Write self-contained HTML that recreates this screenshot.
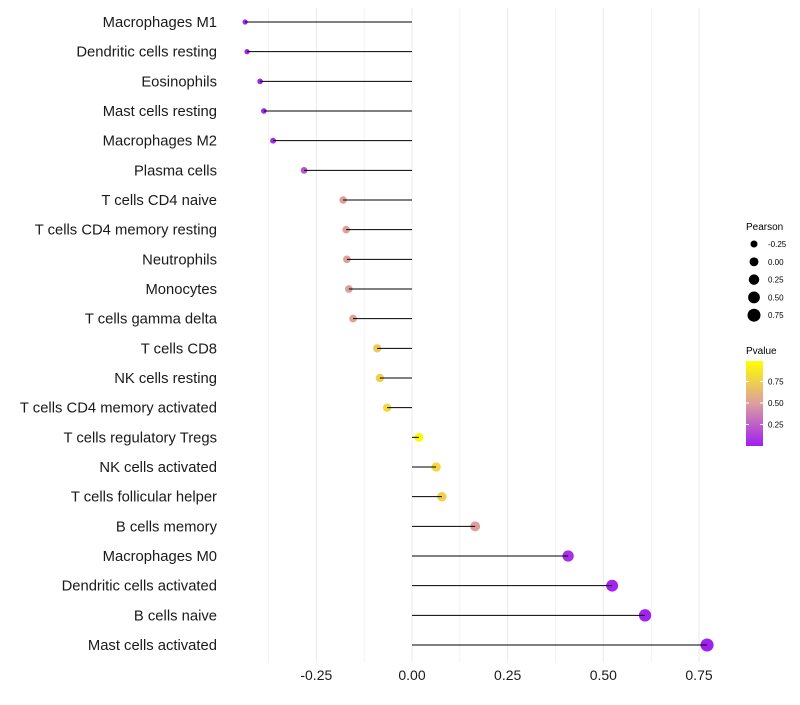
<!DOCTYPE html>
<html><head><meta charset="utf-8"><style>
body{margin:0;background:#fff;font-family:"Liberation Sans",sans-serif}
svg text{font-family:"Liberation Sans",sans-serif}
</style></head><body>
<svg id="chart" width="800" height="700">
<defs><linearGradient id="pg" x1="0" y1="1" x2="0" y2="0">
<stop offset="0" stop-color="#a020f0"/><stop offset="0.5" stop-color="#dc9ea0"/><stop offset="1" stop-color="#ffff00"/></linearGradient></defs>
<g id="grid"></g><g id="pts"></g><g id="marks"></g><g id="axes"></g>
<g>
<text x="746" y="230" font-size="10">Pearson</text>
<g id="sizeleg"></g>
<text x="746" y="354" font-size="10">Pvalue</text>
<rect x="746" y="361" width="17" height="85" fill="url(#pg)"/>
<g id="colleg"></g>
</g>
</svg>
<script>
const categories=["Macrophages M1","Dendritic cells resting","Eosinophils","Mast cells resting","Macrophages M2","Plasma cells","T cells CD4 naive","T cells CD4 memory resting","Neutrophils","Monocytes","T cells gamma delta","T cells CD8","NK cells resting","T cells CD4 memory activated","T cells regulatory  Tregs ","NK cells activated","T cells follicular helper","B cells memory","Macrophages M0","Dendritic cells activated","B cells naive","Mast cells activated"];
const pearson=[-0.436,-0.431,-0.397,-0.387,-0.363,-0.282,-0.180,-0.172,-0.170,-0.165,-0.154,-0.091,-0.084,-0.065,0.018,0.063,0.078,0.165,0.408,0.523,0.609,0.771];
const pvalue=[0.01,0.01,0.02,0.03,0.05,0.2,0.5,0.5,0.5,0.5,0.52,0.72,0.76,0.8,0.97,0.8,0.76,0.5,0.06,0.02,0.01,0.001];
const xTicks=[-0.25,0,0.25,0.5,0.75];
const xTickLabels=["-0.25","0.00","0.25","0.50","0.75"];
const sizeLegVals=[-0.25,0,0.25,0.5,0.75];
const colLegVals=[0.25,0.5,0.75];
const NS="http://www.w3.org/2000/svg";
const X=v=>412+v*382.7;
const Y=i=>22+i*29.667;
const R=v=>Math.sqrt(Math.max(2,19.75+30*v));
function mix(a,b,t){return a.map((x,i)=>Math.round(x+(b[i]-x)*t));}
function col(p){const s=[[160,32,240],[222,158,156],[255,255,0]];const c=p<0.5?mix(s[0],s[1],p/0.5):mix(s[1],s[2],(p-0.5)/0.5);return `rgb(${c})`;}
function el(t,a,parent){const e=document.createElementNS(NS,t);for(const k in a)e.setAttribute(k,a[k]);parent.appendChild(e);return e;}
const grid=document.getElementById('grid'),marks=document.getElementById('marks'),pts=document.getElementById('pts'),axes=document.getElementById('axes');
[-0.375,-0.25,-0.125,0,0.125,0.25,0.375,0.5,0.625,0.75].forEach(v=>{const l=el('line',{x1:X(v),x2:X(v),y1:8,y2:662,stroke:'#ebebeb','stroke-width':Number.isInteger(v*4)?1:0.6},grid);});
xTicks.forEach((v,i)=>{const t=el('text',{x:X(v),y:680,'font-size':14,'text-anchor':'middle',fill:'#1a1a1a'},axes);t.textContent=xTickLabels[i];});
categories.forEach((c,i)=>{
 const t=el('text',{x:217,y:Y(i)+5,'font-size':14.8,'text-anchor':'end',fill:'#1a1a1a'},axes);t.textContent=c;
 const p=el('circle',{cx:X(pearson[i]),cy:Y(i),r:R(pearson[i]),fill:col(pvalue[i])},pts);
 const l=el('line',{x1:X(0),x2:X(pearson[i]),y1:Y(i),y2:Y(i),stroke:'#000','stroke-width':1},marks);
});
const sl=document.getElementById('sizeleg');
sizeLegVals.forEach((v,i)=>{const y=244+i*17.8;const c=el('circle',{cx:754,cy:y,r:R(v),fill:'#000'},sl);
 const t=el('text',{x:768,y:y+3,'font-size':8},sl);t.textContent=v.toFixed(2);});
const cl=document.getElementById('colleg');
colLegVals.forEach(v=>{const y=446-v*86;el('line',{x1:746,x2:749,y1:y,y2:y,stroke:'#fff'},cl);el('line',{x1:760,x2:763,y1:y,y2:y,stroke:'#fff'},cl);
 const t=el('text',{x:768,y:y+3,'font-size':8},cl);t.textContent=v.toFixed(2);});
</script>
</body></html>
